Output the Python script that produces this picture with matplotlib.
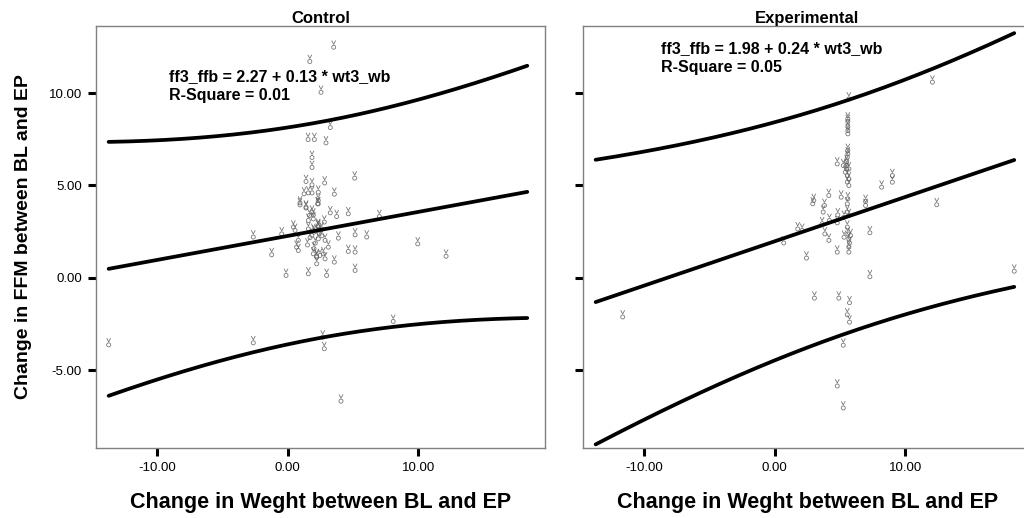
import numpy as np
import matplotlib
matplotlib.use("Agg")
import matplotlib.pyplot as plt
from matplotlib.path import Path

plt.rcParams['font.family'] = ['Liberation Sans', 'DejaVu Sans']

# change in weight (x) vs change in FFM (y), BL -> EP
ctrl_x = [3.51, 1.68, 2.54, 3.25, 1.55, 2.03, 2.92, 1.85, 1.85,
          1.39, 1.85, 2.82, 5.12, 1.24, 1.57, 1.85, 2.33, 3.56, 2.33, 2.33,
          0.93, 1.39, 1.85, 1.65, 1.57, 1.95, 1.95, 3.25, 3.74, 4.63, 7.01,
          2.79, 2.33, 0.42, 0.55, 1.57, 1.95, 2.33, 2.59,
          -2.65, -0.47, 0.80, 1.83, 2.33, 2.85, 3.87, 5.15, 6.04,
          0.67, 0.80, 1.95, 2.21, 2.46, 2.72, 3.10, 2.85, 2.21, 4.63, -1.24,
          3.56, 5.15, -0.14, 1.57, 2.97, 5.15, 9.95, 12.12,
          2.0, 2.4, 1.7, 2.1, 2.6, 1.5, 2.0, 2.3, 2.2, 0.93, 1.39, 2.28,
          8.07, 2.67, 2.79, -2.65, -13.73, 4.07]
ctrl_y = [12.61, 11.84, 10.17, 8.26, 7.61, 7.61, 7.43, 6.64, 6.10,
          5.34, 5.16, 5.26, 5.52, 4.67, 4.72, 4.72, 4.76, 4.65, 4.31, 4.13,
          4.18, 3.95, 3.68, 3.50, 3.23, 3.53, 3.31, 3.64, 3.44, 3.59, 3.44,
          3.14, 2.96, 2.87, 2.69, 2.77, 2.69, 2.87, 2.77,
          2.33, 2.50, 2.15, 2.42, 2.23, 2.15, 2.27, 2.45, 2.33,
          1.78, 1.60, 1.42, 1.24, 1.33, 1.42, 1.78, 1.15, 0.88, 1.55, 1.37,
          0.97, 1.51, 0.25, 0.34, 0.25, 0.52, 1.96, 1.29,
          2.6, 2.5, 2.3, 2.0, 2.4, 1.9, 1.7, 2.9, 1.3, 4.07, 3.90, 4.13,
          -2.24, -3.09, -3.72, -3.40, -3.51, -6.56]

exp_x = [12.07, 5.67, 5.59, 5.59, 5.59, 5.59, 5.59,
         5.59, 5.59, 5.55, 5.50, 5.50, 5.67, 5.40, 5.55, 5.67, 5.55, 5.67,
         4.78, 5.24, 5.49, 8.18, 9.00, 9.00,
         4.13, 5.08, 5.59, 2.98, 6.95, 2.90, 3.80, 3.70, 5.55, 6.95, 12.40,
         4.82, 5.55, 5.67, 5.29, 4.78, 4.18, 3.62, 1.75, 2.09,
         5.55, 5.59, 5.67, 5.72, 5.67, 5.67, 5.30, 5.80,
         3.83, 4.14, 4.78, 7.28, 0.68, 2.42, 7.28, 18.34,
         3.03, 4.90, 5.72, 5.55, 5.72, -11.66, 5.24, 4.78, 5.24]
exp_y = [10.72, 9.81, 8.73, 8.59, 8.33, 8.10, 7.92,
         7.02, 6.84, 6.66, 6.42, 6.21, 6.02, 5.84, 5.66, 5.48, 5.31, 5.12,
         6.29, 6.20, 6.02, 5.03, 5.66, 5.30,
         4.58, 4.49, 4.40, 4.31, 4.26, 4.13, 4.04, 3.68, 4.13, 4.04, 4.08,
         3.53, 3.68, 3.50, 3.40, 3.10, 3.23, 3.05, 2.77, 2.69,
         2.87, 2.50, 2.23, 2.01, 1.78, 1.51, 2.32, 2.41,
         2.50, 2.15, 1.51, 2.56, 2.01, 1.19, 0.18, 0.48,
         -0.98, -0.98, -1.23, -1.88, -2.28, -2.00, -3.53, -5.74, -6.93]

groups = ["Control", "Experimental"]
intercepts = [2.27, 1.98]
slopes = [0.13, 0.24]
r_squares = [0.01, 0.05]
# summary stats for the 95% individual prediction bands
n_cases = [110, 120]
resid_sd = [2.94, 3.17]
x_mean = [2.5, 6.1]
x_sd = [2.50, 2.57]
t_crit = 1.98

xticks = [-10, 0, 10]
yticks = [-5, 0, 5, 10]

# where the fit equation goes in each panel (data coords)
eq_pos = [(-9.1, 11.3), (-8.7, 12.8)]

# SPSS-style point marker: small ring with a v on top
marker = Path.make_compound_path(
    Path.circle(center=(0, -0.45), radius=0.4),
    Path([(-0.4, 0.9), (0, 0.15), (0.4, 0.9)],
         [Path.MOVETO, Path.LINETO, Path.LINETO]))

fig = plt.figure(figsize=(10.24, 5.18), dpi=100)
ax1 = fig.add_axes([96 / 1024, 70 / 518, 449 / 1024, 422 / 518])
ax2 = fig.add_axes([583 / 1024, 70 / 518, 449 / 1024, 422 / 518], sharey=ax1)

all_x = np.array(ctrl_x + exp_x)
xs = np.linspace(all_x.min(), all_x.max(), 300)

data = [(ctrl_x, ctrl_y), (exp_x, exp_y)]
for i, ax in enumerate([ax1, ax2]):
    px, py = data[i]
    ax.scatter(px, py, marker=marker, s=42, facecolors='none',
               edgecolors='#606060', linewidths=0.6, alpha=0.85, zorder=2)

    # fit line plus upper/lower prediction limits
    fit = intercepts[i] + slopes[i] * xs
    sxx = (n_cases[i] - 1) * x_sd[i] ** 2
    half = t_crit * resid_sd[i] * np.sqrt(1 + 1 / n_cases[i] + (xs - x_mean[i]) ** 2 / sxx)
    for yy in (fit + half, fit, fit - half):
        ax.plot(xs, yy, color='black', lw=2.7, solid_capstyle='round', zorder=3)

    ex, ey = eq_pos[i]
    ax.text(ex, ey, f"ff3_ffb = {intercepts[i]:.2f} + {slopes[i]:.2f} * wt3_wb\n"
            f"R-Square = {r_squares[i]:.2f}",
            fontsize=11.5, fontweight='bold', va='top', ha='left',
            linespacing=1.3, zorder=4)

    ax.set_title(groups[i], fontsize=12, fontweight='bold', pad=2.5)
    ax.set_xlim(-14.7, 19.7)
    ax.set_ylim(-9.22, 13.64)
    ax.set_xticks(xticks)
    ax.set_xticklabels([f"{t:.2f}" for t in xticks])
    ax.set_yticks(yticks)
    ax.set_yticklabels([f"{t:.2f}" for t in yticks])
    ax.tick_params(direction='out', length=6, width=2.2, color='black',
                   labelsize=9.5, pad=4)
    for sp in ax.spines.values():
        sp.set_color('#808080')
        sp.set_linewidth(1.0)
    ax.set_xlabel("Change in Weght between BL and EP", fontsize=15.5,
                  fontweight='bold', labelpad=13)

ax1.set_ylabel("Change in FFM between BL and EP", fontsize=14,
               fontweight='bold', labelpad=12)
ax2.tick_params(axis='y', labelleft=False)

fig.savefig("out.png", dpi=100)
